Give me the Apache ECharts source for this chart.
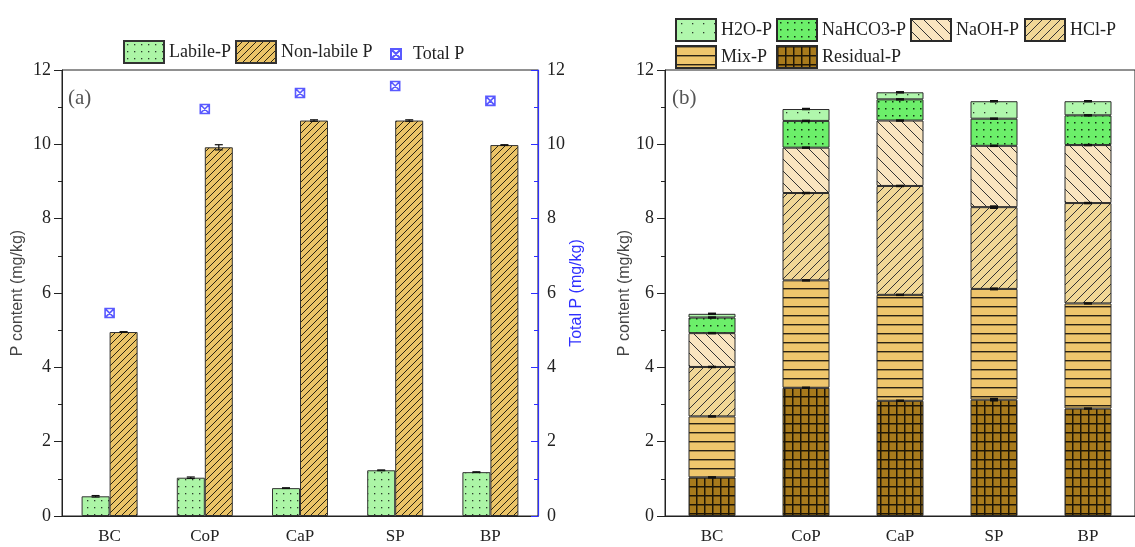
<!DOCTYPE html>
<html>
<head>
<meta charset="utf-8">
<script src="https://cdn.jsdelivr.net/npm/echarts@6/dist/echarts.min.js"></script>
<style>html,body{margin:0;padding:0;background:#fff;}#main{width:1135px;height:547px;}</style>
</head>
<body>
<div id="main"></div>
<script>
const categories = ['BC', 'CoP', 'CaP', 'SP', 'BP'];
// Panel (a)
const labileP = [0.53, 1.03, 0.75, 1.23, 1.18];
const nonLabileP = [4.95, 9.92, 10.64, 10.64, 9.98];
const totalP = [5.46, 10.95, 11.38, 11.57, 11.17];
const labileErr = [0.02, 0.02, 0.01, 0.01, 0.01];
const nonLabileErr = [0.01, 0.07, 0.02, 0.02, 0.01];
// Panel (b) (stack order bottom -> top)
const residualP = [1.04, 3.45, 3.10, 3.13, 2.89];
const mixP = [1.64, 2.89, 2.85, 2.98, 2.83];
const hclP = [1.33, 2.35, 2.93, 2.20, 2.70];
const naohP = [0.91, 1.22, 1.76, 1.65, 1.56];
const nahco3P = [0.42, 0.72, 0.57, 0.73, 0.80];
const h2oP = [0.10, 0.32, 0.19, 0.47, 0.38];
const residualErr = [0.02, 0.03, 0.03, 0.05, 0.01];
const mixErr = [0.01, 0.01, 0.03, 0.04, 0.01];
const hclErr = [0.01, 0.02, 0.03, 0.05, 0.03];
const naohErr = [0.01, 0.03, 0.03, 0.02, 0.03];
const nahco3Err = [0.01, 0.03, 0.02, 0.01, 0.01];
const h2oErr = [0.01, 0.02, 0.01, 0.01, 0.01];

const SERIF = '"Liberation Serif", "Times New Roman", serif';
const SANS = '"Liberation Sans", Arial, sans-serif';

function mkCanvas(w, h, bg) {
  const c = document.createElement('canvas');
  c.width = w; c.height = h;
  const ctx = c.getContext('2d');
  ctx.fillStyle = bg; ctx.fillRect(0, 0, w, h);
  return [c, ctx];
}
function dots(bg, sx, sy, col, sz) {
  const [c, ctx] = mkCanvas(sx, sy, bg);
  ctx.fillStyle = col;
  ctx.fillRect(Math.floor(sx / 2), Math.floor(sy / 2), sz, sz);
  return { image: c, repeat: 'repeat' };
}
function diag(bg, s, dir, col, lw) {
  const [c, ctx] = mkCanvas(s, s, bg);
  ctx.strokeStyle = col; ctx.lineWidth = lw;
  ctx.beginPath();
  if (dir > 0) {
    ctx.moveTo(-1, s + 1); ctx.lineTo(s + 1, -1);
    ctx.moveTo(-s / 2 - 1, s / 2 + 1); ctx.lineTo(s / 2 + 1, -s / 2 - 1);
    ctx.moveTo(s / 2 - 1, s * 1.5 + 1); ctx.lineTo(s * 1.5 + 1, s / 2 - 1);
  } else {
    ctx.moveTo(-1, -1); ctx.lineTo(s + 1, s + 1);
    ctx.moveTo(-s / 2 - 1, s / 2 - 1); ctx.lineTo(s / 2 + 1, s * 1.5 + 1);
    ctx.moveTo(s / 2 - 1, -s / 2 - 1); ctx.lineTo(s * 1.5 + 1, s / 2 + 1);
  }
  ctx.stroke();
  return { image: c, repeat: 'repeat' };
}
function hlines(bg, s, col, lw) {
  const [c, ctx] = mkCanvas(4, s, bg);
  ctx.fillStyle = col; ctx.fillRect(0, 0, 4, lw);
  return { image: c, repeat: 'repeat' };
}
function gridPat(bg, sx, sy, col, lw) {
  const [c, ctx] = mkCanvas(sx, sy, bg);
  ctx.fillStyle = col; ctx.fillRect(0, 0, sx, lw); ctx.fillRect(0, 0, lw, sy);
  return { image: c, repeat: 'repeat' };
}

const pLabile = dots('#acf5a6', 7, 7, '#2a3a2a', 1.3);
const pNonLabile = diag('#ebc467', 7, 1, '#2b2410', 1);
const pH2O = dots('#b0f7ac', 11, 9, '#2a3a2a', 1.3);
const pNaHCO3 = dots('#6cef6a', 7, 7, '#123312', 1.5);
const pNaOH = diag('#f9e5c0', 12, -1, '#333', 1);
const pHCl = diag('#f0d796', 9, 1, '#333', 1);
const pMix = hlines('#efc66d', 9, '#2a2214', 1.4);
const pResidual = gridPat('#a87a1c', 8, 9, '#1e1606', 1.5);

const blue = '#2f2fff';

function catAxes(gridIndex) {
  return [
    {
      type: 'category', gridIndex, data: categories, position: 'bottom',
      axisLine: { lineStyle: { color: '#222', width: 1 } },
      axisTick: { alignWithLabel: true, length: 7, lineStyle: { color: '#222' } },
      axisLabel: { color: '#222', fontFamily: SERIF, fontSize: 17, margin: 12 }
    },
    {
      type: 'category', gridIndex, data: categories, position: 'bottom',
      axisLine: { show: false },
      axisTick: { alignWithLabel: false, length: 4, lineStyle: { color: '#222' } },
      axisLabel: { show: false }
    }
  ];
}
function valAxis(gridIndex, name, gap) {
  return {
    type: 'value', gridIndex, min: 0, max: 12, interval: 2, position: 'left',
    name, nameLocation: 'middle', nameGap: gap, nameRotate: 90,
    nameTextStyle: { fontFamily: SANS, fontSize: 16, color: '#444' },
    axisLine: { show: true, lineStyle: { color: '#222' } },
    axisTick: { show: true, length: 8, lineStyle: { color: '#222' } },
    minorTick: { show: true, splitNumber: 2, length: 4, lineStyle: { color: '#222' } },
    splitLine: { show: false },
    axisLabel: { color: '#222', fontFamily: SERIF, fontSize: 18, margin: 11 }
  };
}

function errBarRender(offset) {
  return function (params, api) {
    const i = api.value(0), v = api.value(1), e = api.value(2);
    const c = api.coord([i, v]);
    const hi = api.coord([i, v + e]);
    const lo = api.coord([i, v - e]);
    const x = c[0] + offset;
    const st = { stroke: '#111', lineWidth: 1.2 };
    return {
      type: 'group', children: [
        { type: 'line', shape: { x1: x, y1: hi[1], x2: x, y2: lo[1] }, style: st },
        { type: 'line', shape: { x1: x - 4, y1: hi[1], x2: x + 4, y2: hi[1] }, style: st },
        { type: 'line', shape: { x1: x - 4, y1: lo[1], x2: x + 4, y2: lo[1] }, style: st }
      ]
    };
  };
}
function markRender(params, api) {
  const i = api.value(0), v = api.value(1), e = api.value(2);
  const c = api.coord([i, v]);
  const hi = api.coord([i, v + e]);
  const h = Math.max(2.5, 2 * (c[1] - hi[1]));
  return { type: 'rect', shape: { x: c[0] - 4, y: c[1] - h / 2, width: 8, height: h }, style: { fill: '#111' } };
}

const stackB = [
  { name: 'Residual-P', data: residualP, err: residualErr, color: pResidual },
  { name: 'Mix-P', data: mixP, err: mixErr, color: pMix },
  { name: 'HCl-P', data: hclP, err: hclErr, color: pHCl },
  { name: 'NaOH-P', data: naohP, err: naohErr, color: pNaOH },
  { name: 'NaHCO3-P', data: nahco3P, err: nahco3Err, color: pNaHCO3 },
  { name: 'H2O-P', data: h2oP, err: h2oErr, color: pH2O }
];

const series = [
  {
    name: 'Labile-P', type: 'bar', xAxisIndex: 0, yAxisIndex: 0, data: labileP,
    barWidth: 28, barGap: '0%',
    itemStyle: { color: pLabile, borderColor: '#333', borderWidth: 1 }
  },
  {
    name: 'Non-labile P', type: 'bar', xAxisIndex: 0, yAxisIndex: 0, data: nonLabileP,
    barWidth: 28, barGap: '0%',
    itemStyle: { color: pNonLabile, borderColor: '#333', borderWidth: 1 }
  },
  {
    name: 'Total P', type: 'scatter', xAxisIndex: 0, yAxisIndex: 1, data: totalP,
    symbol: 'path://M0,0 L10,0 L10,10 L0,10 Z M0,0 L10,10 M10,0 L0,10', symbolSize: 9,
    itemStyle: { color: '#fff', borderColor: blue, borderWidth: 1.6 }, z: 6
  },
  {
    type: 'custom', xAxisIndex: 0, yAxisIndex: 0, z: 5,
    data: labileP.map((v, i) => [i, v, labileErr[i]]), renderItem: errBarRender(-14)
  },
  {
    type: 'custom', xAxisIndex: 0, yAxisIndex: 0, z: 5,
    data: nonLabileP.map((v, i) => [i, v, nonLabileErr[i]]), renderItem: errBarRender(14)
  }
];
const cum = categories.map(() => 0);
stackB.forEach(s => {
  series.push({
    name: s.name, type: 'bar', xAxisIndex: 2, yAxisIndex: 2, data: s.data, stack: 'b',
    barWidth: 47, itemStyle: { color: s.color, borderColor: '#2a2a2a', borderWidth: 1 }
  });
  const tops = s.data.map((v, i) => { cum[i] += v; return [i, +cum[i].toFixed(3), s.err[i]]; });
  series.push({ type: 'custom', xAxisIndex: 2, yAxisIndex: 2, z: 5, data: tops, renderItem: markRender });
});

function legendItem(name, left, top, extra) {
  return Object.assign({
    data: [{ name, icon: 'rect' }], left, top, itemWidth: 40, itemHeight: 22, itemGap: 0,
    textStyle: { fontFamily: SERIF, fontSize: 18, color: '#222' },
    selectedMode: false
  }, extra || {});
}

const option = {
  animation: false,
  backgroundColor: '#fff',
  grid: [
    { left: 62, top: 70, width: 476, height: 446, show: true, borderColor: '#222', borderWidth: 1, backgroundColor: 'transparent' },
    { left: 665, top: 70, width: 476, height: 446, show: true, borderColor: '#222', borderWidth: 1, backgroundColor: 'transparent' }
  ],
  xAxis: [...catAxes(0), ...catAxes(1)],
  yAxis: [
    valAxis(0, 'P content (mg/kg)', 36),
    {
      type: 'value', gridIndex: 0, min: 0, max: 12, interval: 2, position: 'right',
      name: 'Total P (mg/kg)', nameLocation: 'middle', nameGap: 30, nameRotate: 90,
      nameTextStyle: { fontFamily: SANS, fontSize: 16, color: blue },
      axisLine: { show: true, lineStyle: { color: blue, width: 1.2 } },
      axisTick: { show: true, inside: true, length: 7, lineStyle: { color: blue } },
      minorTick: { show: true, splitNumber: 2, length: 4, lineStyle: { color: blue } },
      splitLine: { show: false },
      axisLabel: { color: '#222', fontFamily: SERIF, fontSize: 18, margin: 9 }
    },
    valAxis(1, 'P content (mg/kg)', 32)
  ],
  legend: [
    legendItem('Labile-P', 118, 35),
    legendItem('Non-labile P', 230, 35),
    {
      data: ['Total P'], left: 385, top: 40, itemWidth: 10, itemHeight: 10, selectedMode: false,
      textStyle: { fontFamily: SERIF, fontSize: 18, color: '#222', padding: [0, 0, 0, 7] }
    },
    legendItem('H2O-P', 670, 13),
    legendItem('NaHCO3-P', 771, 13),
    legendItem('NaOH-P', 905, 13),
    legendItem('HCl-P', 1019, 13),
    legendItem('Mix-P', 670, 40),
    legendItem('Residual-P', 771, 40)
  ],
  graphic: [
    { type: 'text', left: 68, top: 88, style: { text: '(a)', font: '21px ' + SERIF, fill: '#555' } },
    { type: 'text', left: 672, top: 88, style: { text: '(b)', font: '21px ' + SERIF, fill: '#555' } }
  ],
  series
};

const chart = echarts.init(document.getElementById('main'), null, { renderer: 'canvas' });
chart.setOption(option);
</script>
</body>
</html>
